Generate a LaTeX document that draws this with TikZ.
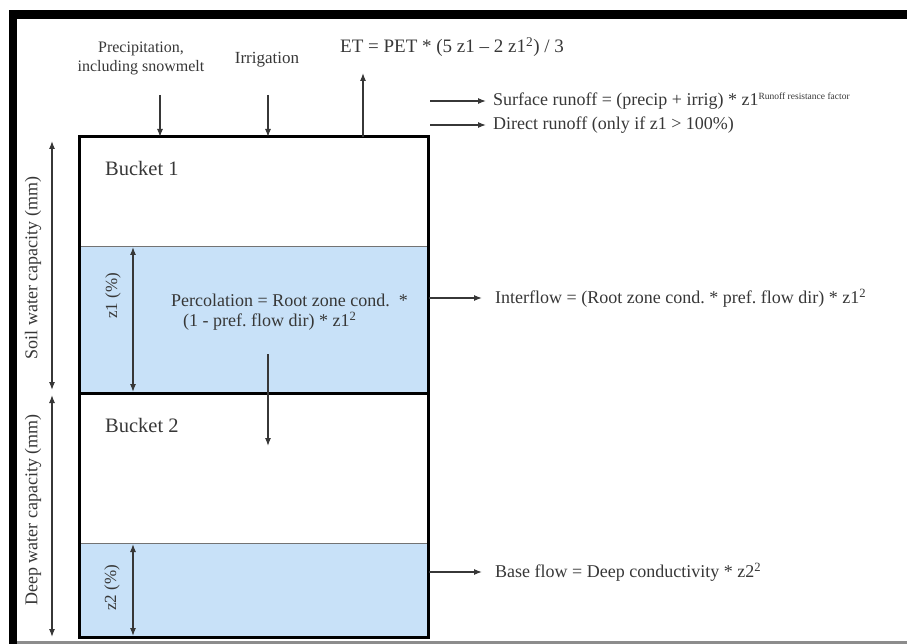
\documentclass[tikz,border=0pt]{standalone}
\usepackage{fontspec}
\setmainfont{Liberation Serif}
\usetikzlibrary{arrows.meta}
\definecolor{water}{RGB}{200,225,248}
\definecolor{ink}{RGB}{55,55,55}
\begin{document}
\begin{tikzpicture}[x=1pt,y=-1pt,
  txt/.style={text=ink,font=\fontsize{18}{20}\selectfont,inner sep=0pt},
  flow/.style={-{Latex[length=8pt,width=6pt]},draw=ink,line width=1.2pt},
  dimline/.style={{Latex[length=8pt,width=6pt]}-{Latex[length=8pt,width=6pt]},draw=ink,line width=1.2pt},
  wall/.style={line width=3pt}]
\useasboundingbox (0,0) rectangle (907,644);
% frame of the screenshot
\fill[black] (9,10) rectangle (907,19);
\fill[black] (9,10) rectangle (17,644);
\fill[black!45] (17,641) rectangle (907,644);
% water levels
\fill[water] (79,246) rectangle (428,393);
\fill[water] (79,543) rectangle (428,637);
\draw[black!55,line width=0.8pt] (79,246) -- (428,246);
\draw[black!55,line width=0.8pt] (79,543) -- (428,543);
% buckets
\draw[wall] (79,137) rectangle (428,637);
\draw[wall] (79,393) -- (428,393);
\node[txt,anchor=west,font=\fontsize{20.5}{23}\selectfont] (bk1) at (105,168) {Bucket 1};
\node[txt,anchor=west,font=\fontsize{20.5}{23}\selectfont] (bk2) at (105,425) {Bucket 2};

% inputs and outputs at the top
\node[txt,align=center,font=\fontsize{16}{19}\selectfont] (precip) at (141,58) {Precipitation,\\including snowmelt};
\node[txt,font=\fontsize{17}{19}\selectfont] (irrig) at (267,60) {Irrigation};
\node[txt,anchor=west,font=\fontsize{19}{21}\selectfont] (et) at (340,47) {ET = PET * (5 z1 -- 2 z1\textsuperscript{2}) / 3};
\coordinate (precipin) at (160,137);
\coordinate (irrigin) at (268,137);
\coordinate (etout) at (363,137);
\coordinate (precipfrom) at (160,95);
\coordinate (irrigfrom) at (268,95);
\coordinate (etto) at (363,73);
\draw[flow] (precipfrom) -- (precipin);
\draw[flow] (irrigfrom) -- (irrigin);
\draw[flow] (etout) -- (etto);

\node[txt,anchor=west] (surf) at (493,101) {Surface runoff = (precip + irrig) * z1\textsuperscript{\fontsize{9.5}{10}\selectfont Runoff resistance factor}};
\node[txt,anchor=west] (direct) at (493,125) {Direct runoff (only if z1 {\textgreater} 100\%)};
\coordinate (surffrom) at (430,101);
\coordinate (directfrom) at (430,125);
\draw[flow,shorten >=7pt] (surffrom) -- (surf.west);
\draw[flow,shorten >=7pt] (directfrom) -- (direct.west);

% bucket 1 fluxes
\node[txt,align=left,anchor=west] (perc) at (171,312) {Percolation = Root zone cond.\ \ *\\\hspace{12pt}(1 - pref.\ flow dir) * z1\textsuperscript{2}};
\coordinate (percfrom) at (268,354);
\coordinate (percto) at (268,446);
\draw[flow] (percfrom) -- (percto);
\node[txt,anchor=west] (inter) at (495,298) {Interflow = (Root zone cond.\ * pref.\ flow dir) * z1\textsuperscript{2}};
\coordinate (interfrom) at (429,298);
\draw[flow,shorten >=13pt] (interfrom) -- (inter.west);

% bucket 2 flux
\node[txt,anchor=west] (base) at (495,572) {Base flow = Deep conductivity * z2\textsuperscript{2}};
\coordinate (basefrom) at (429,572);
\draw[flow,shorten >=13pt] (basefrom) -- (base.west);

% levels and capacities
\coordinate (z1top) at (133,247);
\coordinate (z1bot) at (133,392);
\coordinate (z2top) at (133,544);
\coordinate (z2bot) at (133,636);
\draw[dimline] (z1top) -- (z1bot);
\draw[dimline] (z2top) -- (z2bot);
\node[txt,rotate=90,font=\fontsize{17}{19}\selectfont] (z1lab) at (113,296) {z1 (\%)};
\node[txt,rotate=90,font=\fontsize{17}{19}\selectfont] (z2lab) at (112,588) {z2 (\%)};
\coordinate (soiltop) at (52,141);
\coordinate (soilbot) at (52,390);
\coordinate (deeptop) at (52,395);
\coordinate (deepbot) at (52,637);
\draw[dimline] (soiltop) -- (soilbot);
\draw[dimline] (deeptop) -- (deepbot);
\node[txt,rotate=90] (soillab) at (33,268) {Soil water capacity (mm)};
\node[txt,rotate=90] (deeplab) at (33,510) {Deep water capacity (mm)};
\end{tikzpicture}
\end{document}
